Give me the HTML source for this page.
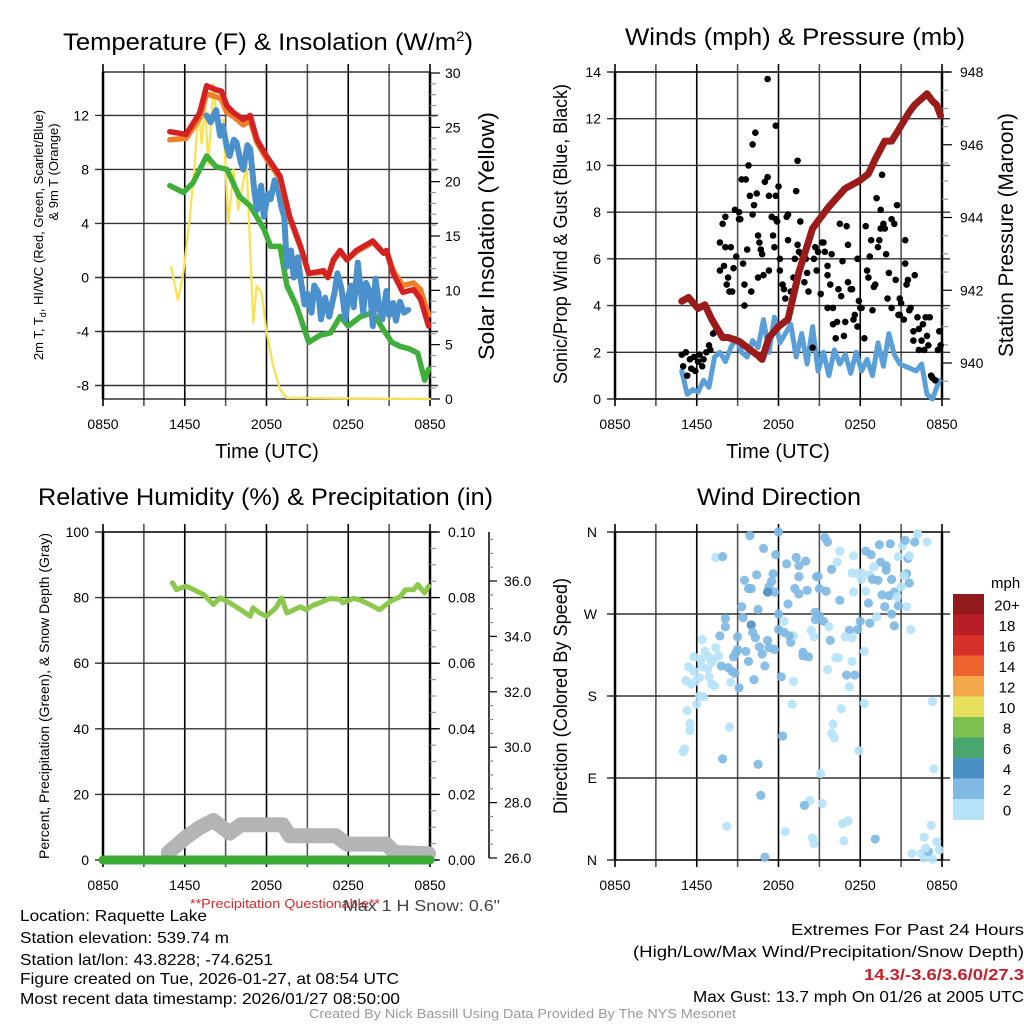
<!DOCTYPE html>
<html><head><meta charset="utf-8"><style>
html,body{margin:0;padding:0;background:#fff;}
svg{display:block;font-family:"Liberation Sans",sans-serif;}
</style></head><body>
<svg id="chart" width="1024" height="1024" viewBox="0 0 1024 1024" xmlns="http://www.w3.org/2000/svg">
<rect width="1024" height="1024" fill="#fff"/>
<g fill="#000">
<text x="63" y="50" font-size="24" textLength="410" lengthAdjust="spacingAndGlyphs">Temperature (F) &amp; Insolation (W/m<tspan dy="-9" font-size="14">2</tspan><tspan dy="9">)</tspan></text>
<text x="625" y="45" font-size="24" textLength="340" lengthAdjust="spacingAndGlyphs">Winds (mph) &amp; Pressure (mb)</text>
<text x="38" y="505" font-size="24" textLength="455" lengthAdjust="spacingAndGlyphs">Relative Humidity (%) &amp; Precipitation (in)</text>
<text x="697" y="505" font-size="24" textLength="164" lengthAdjust="spacingAndGlyphs">Wind Direction</text>
</g>
<g id="plots"></g>
<g font-size="16">
<text x="190" y="908" font-size="13" fill="#d42a2a" textLength="190" lengthAdjust="spacingAndGlyphs">**Precipitation Questionable**</text>
<text x="343" y="911" fill="#444" textLength="157" lengthAdjust="spacingAndGlyphs">Max 1 H Snow: 0.6"</text>
<text x="20" y="921" textLength="187" lengthAdjust="spacingAndGlyphs">Location: Raquette Lake</text>
<text x="20" y="943" textLength="209" lengthAdjust="spacingAndGlyphs">Station elevation: 539.74 m</text>
<text x="20" y="965" textLength="253" lengthAdjust="spacingAndGlyphs">Station lat/lon: 43.8228; -74.6251</text>
<text x="20" y="984" textLength="379" lengthAdjust="spacingAndGlyphs">Figure created on Tue, 2026-01-27, at 08:54 UTC</text>
<text x="20" y="1004" textLength="380" lengthAdjust="spacingAndGlyphs">Most recent data timestamp: 2026/01/27 08:50:00</text>
<text x="791" y="935" textLength="233" lengthAdjust="spacingAndGlyphs">Extremes For Past 24 Hours</text>
<text x="633" y="957" textLength="391" lengthAdjust="spacingAndGlyphs">(High/Low/Max Wind/Precipitation/Snow Depth)</text>
<text x="864" y="980" fill="#c8202a" font-weight="bold" textLength="160" lengthAdjust="spacingAndGlyphs">14.3/-3.6/3.6/0/27.3</text>
<text x="693" y="1002" textLength="331" lengthAdjust="spacingAndGlyphs">Max Gust: 13.7 mph On 01/26 at 2005 UTC</text>
<text x="309" y="1018" font-size="13" fill="#999" textLength="427" lengthAdjust="spacingAndGlyphs">Created By Nick Bassill Using Data Provided By The NYS Mesonet</text>
</g>
</svg>
<script>
// ---------- DATA (hours since 08:50 UTC) ----------
const xTickLabels = ["0850","1450","2050","0250","0850"];
// Panel 1
const tempTimes = [4.9,6.1,7.1,7.6,8.3,8.7,9.1,9.6,10.3,10.8,11.3,12.0,13.0,13.7,14.5,15.1,16.2,16.5,16.9,17.4,17.9,18.6,19.8,20.6,20.8,21.3,22.0,22.8,23.3,23.9];
const temp2m = [10.8,10.6,12.2,14.2,13.9,13.8,12.7,12.2,11.7,12.0,10.2,9.0,7.5,4.5,2.3,0.3,0.5,0,1.3,2.0,1.3,2.0,2.7,1.8,2.0,0.3,-1.1,-0.9,-1.6,-3.6];
const temp9m = [10.2,10.3,11.8,13.6,13.4,13.2,12.2,11.9,11.3,11.6,10.0,8.8,7.3,4.4,2.2,0.3,0.4,0,1.2,1.9,1.3,1.9,2.6,1.8,2.0,0.5,-0.6,-0.4,-0.9,-2.8];
const wcTimes = [7.6,7.9,8.3,8.6,8.8,9.1,9.3,9.6,9.8,10.1,10.3,10.6,10.8,11.1,11.3,11.6,11.8,12.1,12.3,12.6,12.8,13.1,13.3,13.5,13.8,14.0,14.3,14.5,14.8,15.0,15.3,15.5,15.8,16.0,16.3,16.6,17.0,17.2,17.5,17.8,18.0,18.2,18.4,18.7,19.1,19.3,19.6,19.8,20.0,20.3,20.5,20.8,21.0,21.3,21.5,21.8,22.1,22.4];
const windChill = [12,11.5,12.4,10.5,11.2,9.6,9,10.2,10,8.6,8,9.8,9.5,6.5,5,6.8,4.5,6.2,5.8,7.2,6.8,5.2,4.5,0.8,2.0,0,1.5,-0.1,-2.0,-1.2,-2.6,-0.6,-1.1,-3.1,-1.5,-2.9,-1.1,0.3,-0.8,-3.1,-1.4,-0.6,-2.2,1.1,-2.6,-0.4,-1.1,-3.6,-0.1,-2.4,-3.1,-1.0,-2.8,-1.9,-3.2,-1.8,-2.6,-2.4];
const dewTimes = [4.9,5.9,6.6,7.6,8.3,9.1,10.0,10.8,11.8,12.3,13.0,13.5,14.2,15.1,15.9,16.7,17.4,18.0,18.9,19.8,20.6,21.2,21.8,22.5,23.1,23.6,23.9];
const dewPoint = [6.8,6.3,7.0,9.0,8.2,8.0,6.0,5.3,3.6,2.3,2.3,-0.6,-2.1,-4.8,-4.3,-4.1,-2.9,-3.6,-2.9,-2.6,-3.9,-4.8,-5.1,-5.3,-5.6,-7.6,-6.8];
const solarTimes = [5.0,5.5,5.9,6.4,6.75,7.0,7.24,7.49,7.73,8.1,8.46,8.83,9.2,9.57,9.93,10.54,11.03,11.28,11.64,12.01,12.5,12.99,13.48,24];
const solar = [12.2,9.1,11.6,17.1,22,26.6,23.5,27,21.5,29,24.2,25.7,16.1,21.1,17.4,21.7,7,10.4,9.8,6.1,3,0.9,0.1,0];
// Panel 2
const presTimes = [4.9,5.4,6.1,6.6,7.1,7.9,8.3,9.1,9.8,10.5,10.8,11.3,12.0,12.7,13.5,14.5,14.9,15.7,16.9,17.9,18.6,19.1,19.8,20.3,20.8,21.6,22.0,22.9,23.3,23.6,23.9];
const pressure = [941.7,941.8,941.5,941.6,941.2,940.7,940.7,940.6,940.4,940.2,940.1,940.7,941.0,941.2,942.5,943.7,943.9,944.3,944.8,945.0,945.2,945.6,946.1,946.1,946.4,946.9,947.1,947.4,947.2,947.1,946.8];
const windTimes = [4.9,5.3,5.7,6.1,6.5,6.9,7.3,7.7,8.1,8.5,8.9,9.3,9.7,10.1,10.5,10.9,11.3,11.7,12.1,12.5,12.9,13.3,13.7,14.1,14.5,14.9,15.3,15.7,16.1,16.5,16.9,17.3,17.7,18.1,18.5,18.9,19.3,19.7,20.1,20.5,20.9,21.3,21.7,22.1,22.5,22.9,23.3,23.8];
const windSpeed = [1.2,0.2,0.4,0.3,0.8,0.5,1.8,2.0,1.6,2.2,2.6,2.0,1.8,2.5,2.2,3.4,2.0,3.5,2.4,2.8,3.2,1.8,2.8,1.5,3.1,1.2,2.0,1.0,2.1,1.5,1.9,1.1,2.0,1.2,1.7,1.0,2.4,1.4,2.8,1.9,1.5,1.4,1.3,1.2,1.5,0.2,0.0,0.8];
const gustTimes = [4.9,5.0,5.2,5.3,5.5,5.6,5.8,5.9,6.1,6.2,6.4,6.5,6.7,6.9,7.0,7.2,7.4,7.7,7.9,8.1,8.1,7.7,8.0,8.2,8.3,8.4,8.6,8.5,8.7,8.8,8.9,9.1,9.1,9.2,9.3,9.4,9.6,9.5,9.5,9.7,9.8,9.9,10.0,10.1,10.1,10.2,10.3,10.4,10.5,10.5,10.6,10.7,10.8,10.9,11.0,11.2,11.2,11.3,11.3,11.5,11.6,11.7,11.8,11.8,11.8,11.9,12.0,12.1,12.1,12.3,12.4,12.5,12.6,12.7,12.7,12.9,13.1,13.2,13.3,13.4,13.4,13.5,13.6,13.7,13.9,14.0,14.1,14.2,14.5,14.6,14.7,14.8,14.9,15.1,15.2,15.3,15.4,15.6,15.6,15.6,15.8,15.9,16.0,16.0,16.2,16.3,16.4,16.5,16.6,16.7,16.8,16.9,17.0,17.1,17.1,17.3,17.4,17.5,17.6,17.8,17.8,17.9,18.0,18.1,18.3,18.4,18.5,18.6,18.7,18.8,18.9,19.0,19.1,19.2,19.3,19.4,19.5,19.5,19.6,19.7,19.8,19.9,20.0,20.1,20.3,20.3,20.5,20.6,20.7,20.8,20.9,20.9,21.0,21.2,21.3,21.3,21.4,21.5,21.6,21.7,21.9,21.9,22.0,22.2,22.3,22.3,22.5,22.6,22.7,22.8,22.9,23.0,23.1,23.2,23.3,23.5,23.7,23.8,23.9];
const gustSpeed = [1.9,1.4,2.0,1.0,1.7,1.3,1.8,1.2,1.6,1.9,1.4,1.7,2.0,2.3,2.1,2.8,2.9,6.7,7.5,7.8,6.5,5.5,5.7,4.9,5.2,4.6,4.6,6.5,5.6,8.1,6.1,8.0,7.7,7.7,9.4,5.8,9.4,4.9,4.0,6.4,10.0,8.7,4.6,10.9,7.9,8.3,11.4,8.8,7.0,5.2,6.7,6.4,6.2,5.3,9.3,9.5,13.7,8.7,5.5,7.8,7.0,6.5,11.7,7.7,8.7,7.6,9.1,6.0,5.5,4.9,4.7,4.3,7.8,7.9,6.8,4.6,5.2,6.0,8.9,10.2,6.6,6.3,7.6,6.2,5.0,6.0,5.4,4.6,2.2,6.0,6.5,5.5,6.3,4.5,6.7,6.7,6.3,5.7,5.3,3.9,4.9,6.2,3.9,3.2,2.6,3.3,4.7,7.5,4.4,5.9,2.7,3.3,7.4,6.6,5.0,4.7,4.7,3.4,3.6,3.1,6.0,4.2,3.9,3.9,2.6,7.4,5.5,5.2,6.1,6.8,3.8,4.8,4.9,8.6,6.5,6.8,7.3,8.1,9.6,7.5,7.3,6.2,4.3,5.4,3.9,7.7,7.5,5.1,8.3,3.6,4.3,3.6,4.1,3.4,6.8,5.8,4.9,5.1,3.8,3.9,2.5,2.9,5.3,3.5,3.0,2.1,2.5,3.2,2.1,3.5,2.7,2.3,3.5,1.0,0.9,0.8,2.1,2.9,2.3];
// Panel 3
const rhTimes = [5.1,5.4,6.1,6.9,7.4,8.1,8.6,9.3,10.1,10.8,11.0,11.5,12.0,12.7,13.1,13.5,14.0,14.5,14.9,15.4,15.9,16.7,17.4,17.6,18.4,18.9,19.6,20.3,21.1,21.8,22.2,22.8,23.1,23.6,23.9];
const rh = [84.5,82.4,83.5,81.9,80.9,77.9,79.9,78.4,76.3,74.3,76.9,75.3,74.3,76.9,79.9,75.3,76.3,77.2,76.3,77.6,78.4,79.8,79.4,78.4,79.8,79.2,77.8,76.3,78.9,80.2,82.4,82.4,84.0,81.4,83.5];
const precipTimes = [0,24];
const precip = [0,0];
const snowTimes = [4.8,6.1,7.1,8.1,9.3,10.1,13.2,13.7,17.1,17.9,20.8,21.4,23.9];
const snowDepth = [26.2,26.75,27.1,27.35,26.9,27.2,27.2,26.8,26.8,26.5,26.5,26.2,26.15];
// Panel 4: hour, direction (deg), speed (mph)
const dirTimes = [
7.4,7.9,9.9,12.0,10.9,11.8,12.6,13.3,14.0,13.5,
15.4,15.6,16.5,16.3,17.5,18.4,18.8,19.4,20.2,21.1,
21.3,22.2,22.0,22.9,20.8,21.5,21.6,19.5,19.9,19.0,
19.9,20.3,21.4,21.6,21.2,18.1,17.8,18.1,18.7,18.9,
19.3,18.4,17.5,18.6,16.5,19.6,20.1,20.5,20.7,21.0,
21.4,20.8,19.8,20.3,19.2,18.0,18.7,20.5,21.7,17.2,
17.8,16.9,17.4,15.9,14.9,15.0,15.5,14.7,14.7,15.0,
15.3,15.7,14.4,14.6,15.8,16.2,16.4,15.6,17.4,17.0,
17.6,17.2,18.3,18.3,16.6,16.0,15.9,16.1,17.9,23.3,
23.4,15.1,15.2,14.3,13.9,16.7,17.1,16.8,14.5,14.6,
19.1,12.5,11.0,8.2,10.7,10.5,7.9,12.3,13.0,13.1,
12.2,12.9,13.1,12.4,12.0,12.8,12.4,12.0,13.8,14.2,
13.8,12.7,13.2,13.5,14.1,13.5,14.8,11.6,11.7,11.5,
11.3,11.2,10.4,9.5,9.8,10.0,9.3,10.5,9.4,8.1,
8.1,10.0,10.1,10.3,9.0,7.7,11.2,10.6,11.3,11.7,
10.8,9.0,8.9,9.6,8.7,9.8,11.0,7.8,8.3,8.6,
8.8,10.2,9.1,8.5,6.4,6.6,7.4,5.8,6.3,6.9,
7.6,7.1,7.2,5.4,5.8,6.4,6.8,6.9,5.2,5.6,
5.9,6.2,7.1,7.3,6.2,6.5,6.0,5.3,5.5,5.5,
8.4,5.1,5.0,22.5,21.8,22.7,23.0,22.8,23.3,23.6,
23.8,22.7,23.2,22.2,17.4];
const dirDeg = [
332,333,356,360,342,335,325,332,328,323,
354,349,339,327,334,339,335,346,347,345,
351,358,349,349,333,331,334,327,323,322,
318,308,314,304,312,315,314,308,313,308,
307,295,294,282,285,291,290,294,289,300,
278,279,278,270,267,262,260,257,253,252,
253,245,244,319,311,298,295,272,264,268,
262,256,252,245,241,222,222,209,218,203,
203,190,229,172,166,149,139,134,120,174,
100,95,62,65,60,40,43,21,24,18,
23,31,3,37,71,105,111,136,171,196,
201,239,246,250,253,246,262,270,228,223,
224,281,298,292,296,311,311,314,294,306,
300,294,313,307,298,298,278,275,266,265,
256,258,250,244,245,246,241,234,233,231,
226,231,228,229,223,218,213,213,211,207,
205,198,189,195,242,229,233,223,220,223,
224,217,220,212,207,212,210,201,197,193,
196,200,193,191,180,179,171,164,150,142,
146,122,119,7,7,2,9,13,1,20,
11,25,38,358,315];
const dirSpeed = [
1,3,3,3,3,3,3,3,3,3,
3,3,1,1,1,3,3,3,3,1,
3,1,3,1,1,3,1,3,3,1,
3,3,3,3,1,1,1,1,1,3,
3,1,1,3,3,3,3,3,1,1,
1,3,3,3,1,3,3,3,1,3,
3,1,1,3,3,3,3,3,3,3,
3,1,1,1,3,1,1,1,1,3,
3,1,1,1,1,1,1,1,1,1,
1,1,1,1,3,1,1,1,1,1,
3,1,3,1,3,3,3,3,1,1,
3,3,1,3,3,3,1,3,3,3,
3,3,3,3,3,3,3,3,3,3,
3,4.5,3,3,3,3,3,3,3,3,
3,4.5,3,3,3,3,3,3,3,3,
3,3,3,3,3,3,3,3,3,3,
3,3,3,1,1,1,1,1,1,1,
1,1,1,1,1,1,1,1,1,1,
1,1,1,1,1,1,1,1,1,1,
1,1,1,1,1,1,3,1,1,1,
1,1,1,1,1];
const cbarLabels = ["20+","18","16","14","12","10","8","6","4","2","0"];
const cbarColors = ["#921a1c","#b91d26","#d7302a","#ef6330","#f5a84a","#e7e05c","#7dc04f","#4aa66f","#4a8fc6","#7fb9e4","#b6e3f8"];

// ---------- HELPERS ----------
const NS = "http://www.w3.org/2000/svg";
const root = document.getElementById("plots");
function mk(tag, attrs, parent) {
  const e = document.createElementNS(NS, tag);
  for (const k in attrs) e.setAttribute(k, attrs[k]);
  (parent || root).appendChild(e);
  return e;
}
function txt(s, attrs, parent) { const e = mk("text", attrs, parent); e.textContent = s; return e; }
function lin(d0, d1, r0, r1) { return v => r0 + (v - d0) / (d1 - d0) * (r1 - r0); }
function pathFrom(xs, ys, sx, sy) { return xs.map((t, i) => (i ? "L" : "M") + sx(t).toFixed(1) + "," + sy(ys[i]).toFixed(1)).join(""); }

function frame(g, X0, X1, Y0, Y1, sx, hVals, sy) {
  for (let h = 0; h <= 24; h += 3) {
    const x = sx(h);
    const l = mk("line", {x1: x, x2: x, y1: Y0 - 8, y2: Y1 + 7, stroke: (h % 6 === 0) ? "#000" : "#555", "stroke-width": 1.6}, g);
    
    
  }
  hVals.forEach(v => {
    const y = sy(v);
    const l = mk("line", {x1: X0 - 8, x2: X1 + 8, y1: y, y2: y, stroke: "#333", "stroke-width": 1.4}, g);
    
    
  });
  xTickLabels.forEach((s, i) => {
    const t = txt(s, {x: sx(i * 6), y: Y1 + 30, "font-size": 14, "text-anchor": "middle"}, g);
    
    
  });
  const b = mk("rect", {x: X0, y: Y0, width: X1 - X0, height: Y1 - Y0, fill: "none", stroke: "#000", "stroke-width": 1.2}, g);
  
  
  [X0, X1].forEach(x => {
    const l = mk("line", {x1: x, x2: x, y1: Y0, y2: Y1, stroke: "#000", "stroke-width": 2.5}, g);
    
    
  });
}
function leftLabels(g, X0, vals, labels, sy) {
  vals.forEach((v, i) => {
    const t = txt(labels[i], {x: X0 - 14, y: sy(v) + 5, "font-size": 14, "text-anchor": "end"}, g);
    
    
  });
}
function rightAxis(g, X, lo, hi, major, minor, sy, fmt, labelX) {
  for (let v = lo; v <= hi + 1e-9; v += minor) {
    const isMaj = Math.abs(v / major - Math.round(v / major)) < 1e-6;
    const y = sy(v);
    const l = mk("line", {x1: X, x2: X + (isMaj ? 10 : 6), y1: y, y2: y, stroke: isMaj ? "#000" : "#999", "stroke-width": 1.2}, g);
    
    
    if (isMaj) {
      const t = txt(fmt(v), {x: labelX, y: y + 5, "font-size": 14}, g);
      
      
    }
  }
}
function rotText(g, s, x, y, size, name, len) {
  const t = txt(s, {x: 0, y: 0, "font-size": size, "text-anchor": "middle", transform: `translate(${x},${y}) rotate(-90)`}, g);
  if (len) { t.setAttribute("textLength", len); t.setAttribute("lengthAdjust", "spacingAndGlyphs"); }
  
  
  return t;
}
function line(g, xs, ys, sx, sy, color, w, name) {
  const p = mk("path", {d: pathFrom(xs, ys, sx, sy), fill: "none", stroke: color, "stroke-width": w, "stroke-linejoin": "round", "stroke-linecap": "round"}, g);
  
  
  return p;
}

// ---------- PANEL 1 ----------
(function () {
  const g = mk("g", {});
  
  
  const X0 = 103, X1 = 430, Y0 = 72, Y1 = 399;
  const sx = lin(0, 24, X0, X1), sy = lin(-9, 15.22, Y1, Y0), sr = lin(0, 30, Y1, 73);
  const tv = [-8, -4, 0, 4, 8, 12];
  frame(g, X0, X1, Y0, Y1, sx, tv, sy);
  leftLabels(g, X0, tv, tv.map(String), sy);
  rightAxis(g, X1, 0, 30, 5, 1, sr, v => String(v), 445);
  line(g, solarTimes, solar, sx, sr, "#fbe14e", 2.2, "solar-insolation-line");
  line(g, dewTimes, dewPoint, sx, sy, "#3fae3a", 5.5, "dewpoint-line");
  line(g, wcTimes, windChill, sx, sy, "#4a90cc", 6, "windchill-line");
  line(g, tempTimes, temp9m, sx, sy, "#f07f2a", 5.5, "temp-9m-line");
  line(g, tempTimes, temp2m, sx, sy, "#d42222", 5.5, "temp-2m-line");
  const yl = txt("", {x: 0, y: 0, "font-size": 13, "text-anchor": "middle", transform: "translate(43,235) rotate(-90)"}, g);
  
  
  yl.innerHTML = '<tspan>2m T, T</tspan><tspan font-size="9" dy="3">d</tspan><tspan dy="-3">, HI/WC (Red, Green, Scarlet/Blue)</tspan>';
  rotText(g, "& 9m T (Orange)", 58, 172, 13, "temperature-y-axis-title-2");
  rotText(g, "Solar Insolation (Yellow)", 494, 236, 22, "insolation-y-axis-title", 248);
  const xt = txt("Time (UTC)", {x: 267, y: 458, "font-size": 20, "text-anchor": "middle"}, g);
  
  
})();

// ---------- PANEL 2 ----------
(function () {
  const g = mk("g", {});
  
  
  const X0 = 615, X1 = 942, Y0 = 72, Y1 = 399;
  const sx = lin(0, 24, X0, X1), sy = lin(0, 14, Y1, Y0), sp = lin(940, 948, 363, 72);
  const tv = [0, 2, 4, 6, 8, 10, 12, 14];
  frame(g, X0, X1, Y0, Y1, sx, tv, sy);
  leftLabels(g, X0, tv, tv.map(String), sy);
  rightAxis(g, X1, 939.5, 948, 2, 0.5, sp, v => String(Math.round(v)), 960);
  line(g, windTimes, windSpeed, sx, sy, "#5a9fd8", 5, "wind-speed-line");
  gustTimes.forEach((t, i) => {
    const c = mk("circle", {cx: sx(t), cy: sy(gustSpeed[i]), r: 3.3, fill: "#000"}, g);
    
    
  });
  line(g, presTimes, pressure, sx, sp, "#9b1b1b", 7, "pressure-line");
  rotText(g, "Sonic/Prop Wind & Gust (Blue, Black)", 567, 234, 19, "wind-y-axis-title", 300);
  rotText(g, "Station Pressure (Maroon)", 1013, 235, 21, "pressure-y-axis-title", 244);
  const xt = txt("Time (UTC)", {x: 778, y: 458, "font-size": 20, "text-anchor": "middle"}, g);
  
  
})();

// ---------- PANEL 3 ----------
(function () {
  const g = mk("g", {});
  
  
  const X0 = 103, X1 = 430, Y0 = 532, Y1 = 860;
  const sx = lin(0, 24, X0, X1), sy = lin(0, 100, Y1, Y0), spr = lin(0, 0.1, Y1, Y0), ssn = lin(26, 36, 858, 581);
  const tv = [0, 20, 40, 60, 80, 100];
  frame(g, X0, X1, Y0, Y1, sx, tv, sy);
  leftLabels(g, X0, tv, tv.map(String), sy);
  rightAxis(g, X1, 0, 0.1, 0.02, 0.005, spr, v => v.toFixed(2), 448);
  const ax = mk("line", {x1: 489, x2: 489, y1: 532, y2: 858, stroke: "#000", "stroke-width": 1.5}, g);
  
  
  for (let v = 26; v <= 37.5; v += 0.5) {
    const maj = Math.abs(v % 2) < 1e-6;
    const y = ssn(v);
    const l = mk("line", {x1: 489, x2: 489 + (maj ? 8 : 4), y1: y, y2: y, stroke: maj ? "#000" : "#888", "stroke-width": 1.2}, g);
    
    
    if (maj) {
      const t = txt(v.toFixed(1), {x: 504, y: y + 5, "font-size": 14}, g);
      
      
    }
  }
  line(g, snowTimes, snowDepth, sx, ssn, "#b4b4b4", 15, "snow-depth-line");
  line(g, precipTimes, precip, sx, spr, "#3aaa35", 9, "precipitation-line");
  line(g, rhTimes, rh, sx, sy, "#8cc84b", 5, "relative-humidity-line");
  rotText(g, "Percent, Precipitation (Green), & Snow Depth (Gray)", 49, 696, 14, "humidity-y-axis-title", 326);
})();

// ---------- PANEL 4 ----------
(function () {
  const g = mk("g", {});
  
  
  const X0 = 615, X1 = 942, Y0 = 532, Y1 = 860;
  const sx = lin(0, 24, X0, X1), sy = lin(0, 360, Y1, Y0);
  const tv = [0, 90, 180, 270, 360];
  frame(g, X0, X1, Y0, Y1, sx, tv, sy);
  leftLabels(g, X0 - 4, tv, ["N", "E", "S", "W", "N"], sy);
  function color(s) { const i = Math.max(0, Math.min(10, Math.floor((s || 0) / 2))); return cbarColors[10 - i]; }
  const n = Math.min(dirTimes.length, dirDeg.length);
  for (let i = 0; i < n; i++) {
    const c = mk("circle", {cx: sx(dirTimes[i]), cy: sy(dirDeg[i]), r: 4.6, fill: color(dirSpeed[i]), "fill-opacity": 0.92}, g);
    
    
  }
  rotText(g, "Direction (Colored By Speed)", 567, 696, 19, "direction-y-axis-title", 236);
  const lg = mk("g", {}, g);
  
  
  const top = 594, bh = 20.5;
  cbarColors.forEach((c, i) => {
    const r = mk("rect", {x: 953, y: top + i * bh, width: 31, height: bh + 0.5, fill: c}, lg);
    
    
    const t = txt(cbarLabels[i], {x: 1007, y: top + i * bh + bh / 2 + 6, "font-size": 15, "text-anchor": "middle"}, lg);
    
    
  });
  const u = txt("mph", {x: 991, y: 588, "font-size": 15}, lg);
  
  
})();
</script>
</body></html>
